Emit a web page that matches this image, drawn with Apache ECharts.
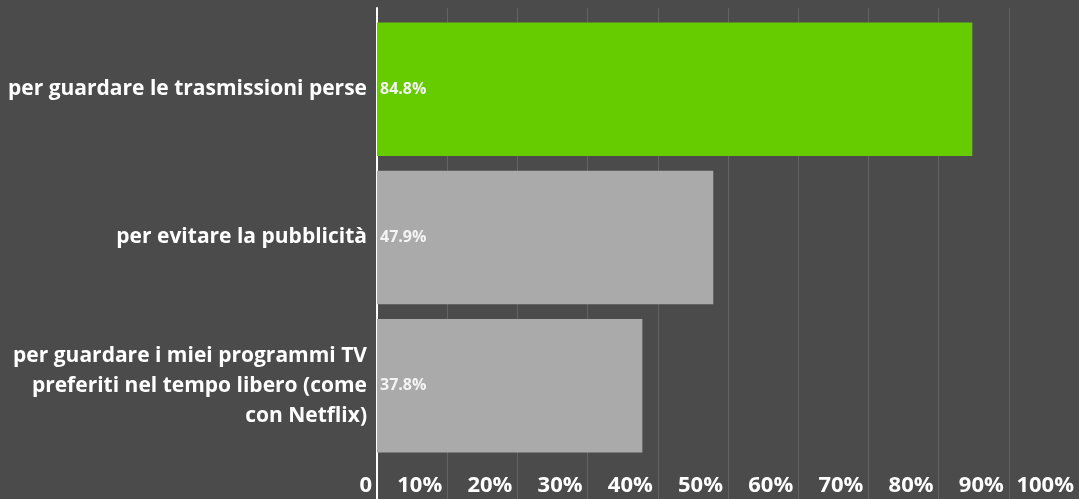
<!DOCTYPE html>
<html>
<head>
<meta charset="utf-8">
<script src="https://cdn.jsdelivr.net/npm/echarts@6/dist/echarts.min.js"></script>
<style>
  html, body { margin: 0; padding: 0; background: #4b4b4b; }
  #chart { width: 1079px; height: 499px; }
</style>
</head>
<body>
<div id="chart"></div>
<script>
// dati
var categorie = [
  'per guardare le trasmissioni perse',
  'per evitare la pubblicità',
  'per guardare i miei programmi TV\npreferiti nel tempo libero (come\ncon Netflix)'
];
var valori = [84.8, 47.9, 37.8];
var colori = ['#66cc00', '#aaaaaa', '#aaaaaa'];

var myChart = echarts.init(document.getElementById('chart'));

var option = {
  backgroundColor: '#4b4b4b',
  textStyle: { fontFamily: '"Open Sans", Lato, sans-serif' },
  grid: [
    // griglia delle barre
    { left: 377, right: 0, top: 15, bottom: 39 },
    // griglia di sfondo (linee verticali e etichette in basso)
    { left: 377, right: 0, top: 8, bottom: 0 }
  ],
  xAxis: [{
    gridIndex: 0,
    type: 'value',
    min: 0,
    max: 100,
    interval: 10,
    axisLine: { show: false },
    axisTick: { show: false },
    splitLine: { show: false },
    axisLabel: { show: false }
  }, {
    gridIndex: 1,
    type: 'value',
    min: 0,
    max: 100,
    interval: 10,
    axisLine: { show: false },
    axisTick: { show: false },
    splitLine: { show: true, lineStyle: { color: '#636363', width: 1 } },
    axisLabel: {
      inside: true,
      color: '#ffffff',
      fontSize: 22,
      fontWeight: 'bold',
      align: 'right',
      margin: 2,
      padding: [0, 5, 0, 0],
      formatter: function (v) { return v === 0 ? '0' : v + '%'; }
    }
  }],
  yAxis: [{
    gridIndex: 0,
    type: 'category',
    inverse: true,
    data: categorie,
    axisLine: { show: false },
    axisTick: { show: false },
    axisLabel: {
      color: '#ffffff',
      fontSize: 21,
      fontWeight: 'bold',
      margin: 10,
      lineHeight: 30,
      align: 'right'
    }
  }, {
    gridIndex: 1,
    type: 'value',
    min: 0,
    max: 1,
    axisLine: { show: true, onZero: false, lineStyle: { color: '#ffffff', width: 2 } },
    axisTick: { show: false },
    axisLabel: { show: false },
    splitLine: { show: false }
  }],
  series: [{
    type: 'bar',
    xAxisIndex: 0,
    yAxisIndex: 0,
    z: 3,
    barCategoryGap: '10%',
    data: valori.map(function (v, i) {
      return { value: v, itemStyle: { color: colori[i] } };
    }),
    label: {
      show: true,
      position: 'insideLeft',
      distance: 3,
      color: '#f4f4f4',
      fontSize: 16,
      fontWeight: 'bold',
      formatter: '{c}%'
    }
  }]
};

myChart.setOption(option);
</script>
</body>
</html>
